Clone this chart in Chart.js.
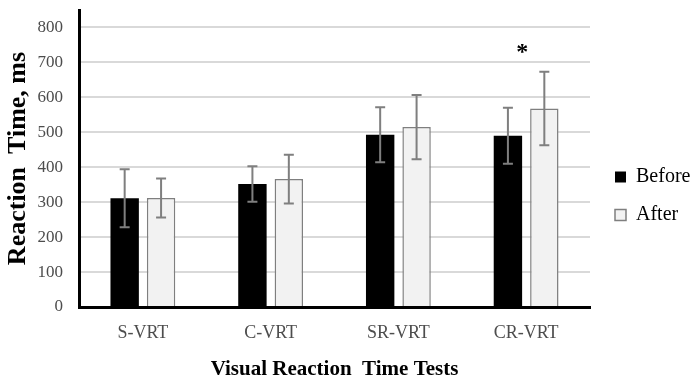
<!DOCTYPE html>
<html>
<head>
<meta charset="utf-8">
<script src="https://cdn.jsdelivr.net/npm/chart.js@4"></script>
<style>
  html, body { margin: 0; padding: 0; background: #fff; }
  #wrap { width: 692px; height: 382px; position: relative; }
</style>
</head>
<body>
<div id="wrap"><canvas id="rtChart"></canvas></div>
<script>
// --- data ---
const categories = ['S-VRT', 'C-VRT', 'SR-VRT', 'CR-VRT'];
const beforeMeans = [311, 352, 493, 490];
const beforeErr = [83, 51, 79, 80];
const afterMeans = [312, 366, 515, 568];
const afterErr = [56, 70, 92, 105];
const sigMarks = ['', '', '', '*'];   // significance markers per category
const yTicks = [0, 100, 200, 300, 400, 500, 600, 700, 800];

const serif = "'Liberation Serif', 'Times New Roman', serif";

// error bars + asterisk, drawn from the scales
const errorBars = {
  id: 'errorBars',
  afterDatasetsDraw(chart) {
    const { ctx, scales: { y } } = chart;
    const errs = [beforeErr, afterErr];
    const tops = [];
    ctx.save();
    ctx.strokeStyle = '#7f7f7f';
    ctx.lineWidth = 2;
    chart.data.datasets.forEach((ds, di) => {
      const meta = chart.getDatasetMeta(di);
      meta.data.forEach((bar, i) => {
        const v = ds.data[i], e = errs[di][i];
        const yt = y.getPixelForValue(v + e);
        const yb = y.getPixelForValue(v - e);
        ctx.beginPath();
        ctx.moveTo(bar.x, yt); ctx.lineTo(bar.x, yb);
        ctx.moveTo(bar.x - 5, yt); ctx.lineTo(bar.x + 5, yt);
        ctx.moveTo(bar.x - 5, yb); ctx.lineTo(bar.x + 5, yb);
        ctx.stroke();
        tops[i] = Math.min(tops[i] ?? Infinity, yt);
      });
    });
    // significance marks centred on the category
    const x = chart.scales.x;
    ctx.fillStyle = '#000';
    ctx.font = 'bold 24px ' + serif;
    ctx.textAlign = 'center';
    ctx.textBaseline = 'middle';
    sigMarks.forEach((m, i) => {
      if (!m) return;
      ctx.fillText(m, x.getPixelForValue(i) - 4, tops[i] - 19);
    });
    ctx.restore();
  }
};

// legend: keep a fixed column on the right, items drawn a bit further in
const legendSlot = {
  id: 'legendSlot',
  beforeLayout(chart) {
    const lg = chart.legend;
    if (!lg || lg._slotted) return;
    const fit = lg.fit.bind(lg);
    const draw = lg.draw.bind(lg);
    lg.fit = function () { fit(); this.width = 102; };
    lg.draw = function () {
      chart.ctx.save();
      chart.ctx.translate(7, 0);
      draw();
      chart.ctx.restore();
    };
    lg._slotted = true;
  }
};

new Chart(document.getElementById('rtChart'), {
  type: 'bar',
  data: {
    labels: categories,
    datasets: [
      {
        label: 'Before',
        data: beforeMeans,
        backgroundColor: '#000000',
        borderColor: '#000000',
        borderWidth: 0,
        categoryPercentage: 0.57,
        barPercentage: 0.78
      },
      {
        label: 'After',
        data: afterMeans,
        backgroundColor: '#f2f2f2',
        borderColor: '#7f7f7f',
        borderWidth: 1.5,
        categoryPercentage: 0.57,
        barPercentage: 0.78
      }
    ]
  },
  options: {
    responsive: true,
    maintainAspectRatio: false,
    animation: false,
    layout: { padding: { top: 10, right: 0, left: 3, bottom: 0 } },
    scales: {
      x: {
        afterFit: (s) => { s.height = 75; },
        grid: { color: 'rgba(0,0,0,0)', drawTicks: false },
        border: { color: '#000', width: 3 },
        ticks: { color: '#4d4d4d', font: { family: serif, size: 18 }, padding: 15 },
        title: {
          display: true,
          text: 'Visual Reaction  Time Tests',
          color: '#000',
          font: { family: serif, size: 21, weight: 'bold' },
          padding: { top: 3, bottom: 0 }
        }
      },
      y: {
        min: 0,
        max: 850,
        afterBuildTicks: (axis) => { axis.ticks = yTicks.map(v => ({ value: v })); },
        afterFit: (s) => { s.width = 76; s.paddingTop = 0; },
        grid: { color: '#d9d9d9', lineWidth: 2, drawTicks: false },
        border: { color: '#000', width: 3 },
        ticks: { color: '#4d4d4d', font: { family: serif, size: 17 }, padding: 16 },
        title: {
          display: true,
          text: 'Reaction  Time, ms',
          color: '#000',
          font: { family: serif, size: 26, weight: 'bold' },
          padding: { top: 0, bottom: 4 }
        }
      }
    },
    plugins: {
      legend: {
        position: 'right',
        labels: {
          color: '#000',
          font: { family: serif, size: 20 },
          boxWidth: 11,
          boxHeight: 11,
          padding: 18
        }
      },
      tooltip: { enabled: false }
    }
  },
  plugins: [errorBars, legendSlot]
});
</script>
</body>
</html>
